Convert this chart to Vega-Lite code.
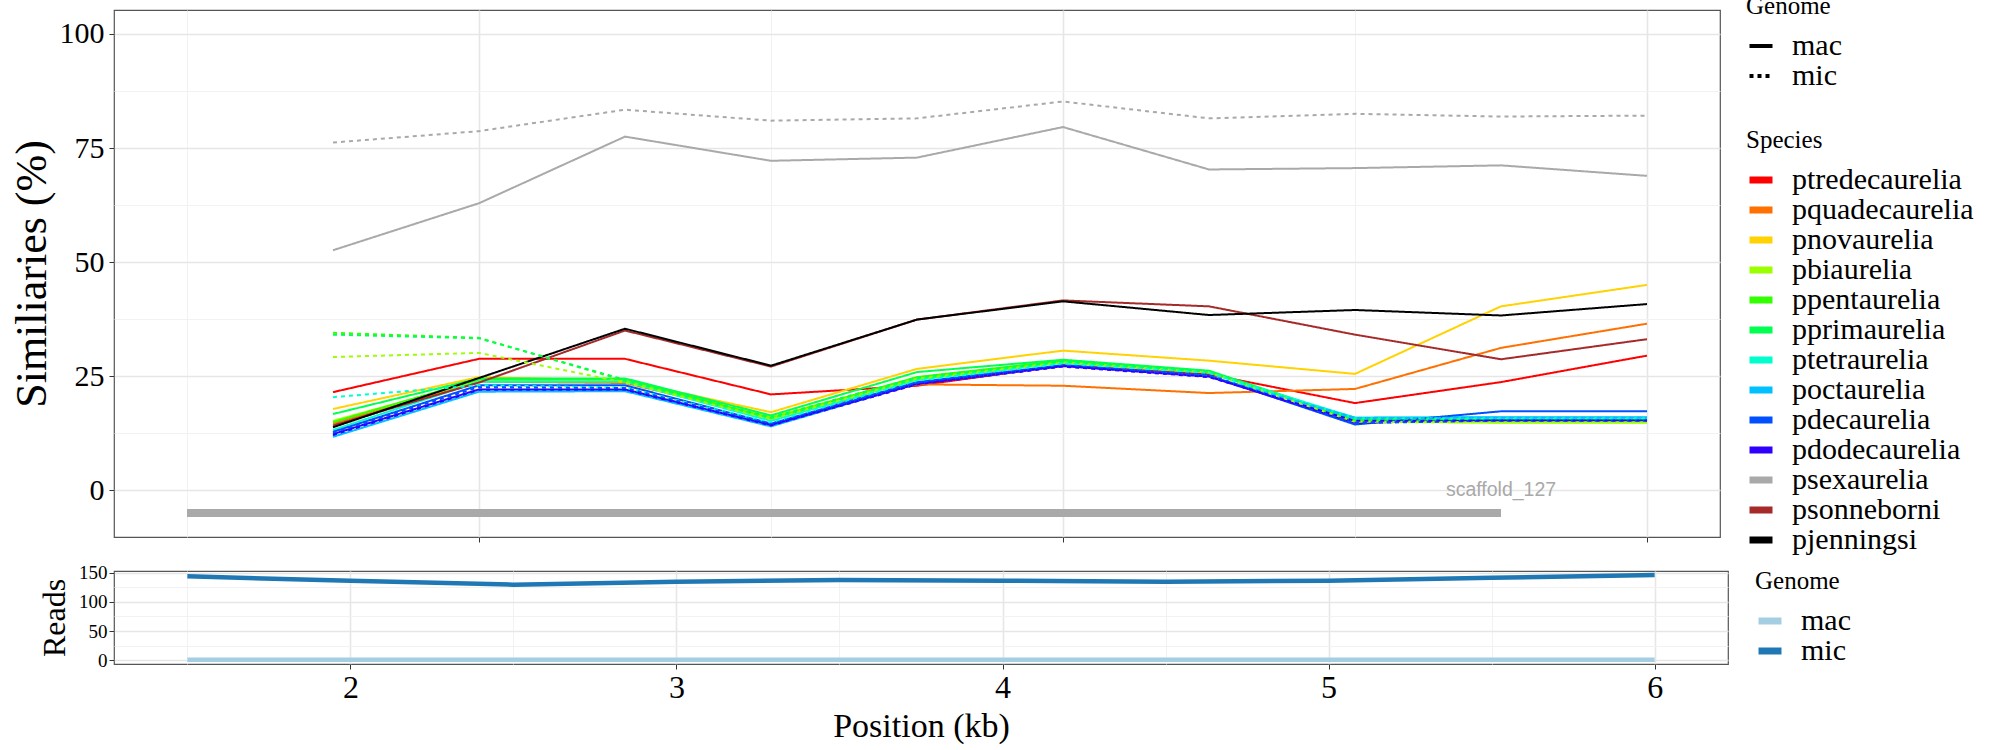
{
  "$schema": "https://vega.github.io/schema/vega-lite/v6.json",
  "padding": {"left": 9, "top": -6, "right": 0, "bottom": 0},
  "config": {
    "font": "Liberation Serif",
    "view": {"stroke": "#555555", "strokeWidth": 1.2},
    "axis": {
      "domain": false,
      "labelFont": "Liberation Serif",
      "titleFont": "Liberation Serif",
      "titleFontWeight": "normal",
      "labelColor": "#000000",
      "titleColor": "#000000",
      "tickColor": "#333333",
      "tickSize": 5,
      "labelFlush": false,
      "labelOverlap": false
    },
    "legend": {
      "titleFont": "Liberation Serif",
      "labelFont": "Liberation Serif",
      "titleFontWeight": "normal",
      "titleColor": "#000000",
      "labelColor": "#000000",
      "titleFontSize": 25,
      "labelFontSize": 30,
      "labelLimit": 400,
      "padding": 0,
      "rowPadding": 0,
      "labelOffset": 16,
      "symbolType": "stroke",
      "symbolSize": 529
    }
  },
  "datasets": {
    "sim": [
      {"species": "ptredecaurelia", "genome": "mac", "pos": 1.5, "sim": 21.5},
      {"species": "ptredecaurelia", "genome": "mac", "pos": 2.0, "sim": 28.8},
      {"species": "ptredecaurelia", "genome": "mac", "pos": 2.5, "sim": 28.8},
      {"species": "ptredecaurelia", "genome": "mac", "pos": 3.0, "sim": 21.0},
      {"species": "ptredecaurelia", "genome": "mac", "pos": 3.5, "sim": 22.9},
      {"species": "ptredecaurelia", "genome": "mac", "pos": 4.0, "sim": 27.4},
      {"species": "ptredecaurelia", "genome": "mac", "pos": 4.5, "sim": 25.4},
      {"species": "ptredecaurelia", "genome": "mac", "pos": 5.0, "sim": 19.1},
      {"species": "ptredecaurelia", "genome": "mac", "pos": 5.5, "sim": 23.7},
      {"species": "ptredecaurelia", "genome": "mac", "pos": 6.0, "sim": 29.5},
      {"species": "pquadecaurelia", "genome": "mac", "pos": 1.5, "sim": 14.6},
      {"species": "pquadecaurelia", "genome": "mac", "pos": 2.0, "sim": 23.8},
      {"species": "pquadecaurelia", "genome": "mac", "pos": 2.5, "sim": 23.5},
      {"species": "pquadecaurelia", "genome": "mac", "pos": 3.0, "sim": 15.9},
      {"species": "pquadecaurelia", "genome": "mac", "pos": 3.5, "sim": 23.2},
      {"species": "pquadecaurelia", "genome": "mac", "pos": 4.0, "sim": 22.9},
      {"species": "pquadecaurelia", "genome": "mac", "pos": 4.5, "sim": 21.3},
      {"species": "pquadecaurelia", "genome": "mac", "pos": 5.0, "sim": 22.2},
      {"species": "pquadecaurelia", "genome": "mac", "pos": 5.5, "sim": 31.2},
      {"species": "pquadecaurelia", "genome": "mac", "pos": 6.0, "sim": 36.5},
      {"species": "pnovaurelia", "genome": "mac", "pos": 1.5, "sim": 17.8},
      {"species": "pnovaurelia", "genome": "mac", "pos": 2.0, "sim": 24.8},
      {"species": "pnovaurelia", "genome": "mac", "pos": 2.5, "sim": 24.0},
      {"species": "pnovaurelia", "genome": "mac", "pos": 3.0, "sim": 17.1},
      {"species": "pnovaurelia", "genome": "mac", "pos": 3.5, "sim": 26.6},
      {"species": "pnovaurelia", "genome": "mac", "pos": 4.0, "sim": 30.6},
      {"species": "pnovaurelia", "genome": "mac", "pos": 4.5, "sim": 28.4},
      {"species": "pnovaurelia", "genome": "mac", "pos": 5.0, "sim": 25.5},
      {"species": "pnovaurelia", "genome": "mac", "pos": 5.5, "sim": 40.3},
      {"species": "pnovaurelia", "genome": "mac", "pos": 6.0, "sim": 45.0},
      {"species": "pbiaurelia", "genome": "mac", "pos": 1.5, "sim": 15.2},
      {"species": "pbiaurelia", "genome": "mac", "pos": 2.0, "sim": 24.0},
      {"species": "pbiaurelia", "genome": "mac", "pos": 2.5, "sim": 23.9},
      {"species": "pbiaurelia", "genome": "mac", "pos": 3.0, "sim": 16.0},
      {"species": "pbiaurelia", "genome": "mac", "pos": 3.5, "sim": 24.6},
      {"species": "pbiaurelia", "genome": "mac", "pos": 4.0, "sim": 28.2},
      {"species": "pbiaurelia", "genome": "mac", "pos": 4.5, "sim": 26.0},
      {"species": "pbiaurelia", "genome": "mac", "pos": 5.0, "sim": 15.0},
      {"species": "pbiaurelia", "genome": "mac", "pos": 5.5, "sim": 14.8},
      {"species": "pbiaurelia", "genome": "mac", "pos": 6.0, "sim": 14.8},
      {"species": "ppentaurelia", "genome": "mac", "pos": 1.5, "sim": 14.9},
      {"species": "ppentaurelia", "genome": "mac", "pos": 2.0, "sim": 24.3},
      {"species": "ppentaurelia", "genome": "mac", "pos": 2.5, "sim": 24.4},
      {"species": "ppentaurelia", "genome": "mac", "pos": 3.0, "sim": 15.7},
      {"species": "ppentaurelia", "genome": "mac", "pos": 3.5, "sim": 24.8},
      {"species": "ppentaurelia", "genome": "mac", "pos": 4.0, "sim": 28.4},
      {"species": "ppentaurelia", "genome": "mac", "pos": 4.5, "sim": 26.0},
      {"species": "ppentaurelia", "genome": "mac", "pos": 5.0, "sim": 15.2},
      {"species": "ppentaurelia", "genome": "mac", "pos": 5.5, "sim": 15.2},
      {"species": "ppentaurelia", "genome": "mac", "pos": 6.0, "sim": 15.2},
      {"species": "pprimaurelia", "genome": "mac", "pos": 1.5, "sim": 16.7},
      {"species": "pprimaurelia", "genome": "mac", "pos": 2.0, "sim": 24.5},
      {"species": "pprimaurelia", "genome": "mac", "pos": 2.5, "sim": 24.5},
      {"species": "pprimaurelia", "genome": "mac", "pos": 3.0, "sim": 16.4},
      {"species": "pprimaurelia", "genome": "mac", "pos": 3.5, "sim": 25.9},
      {"species": "pprimaurelia", "genome": "mac", "pos": 4.0, "sim": 28.6},
      {"species": "pprimaurelia", "genome": "mac", "pos": 4.5, "sim": 26.2},
      {"species": "pprimaurelia", "genome": "mac", "pos": 5.0, "sim": 15.5},
      {"species": "pprimaurelia", "genome": "mac", "pos": 5.5, "sim": 15.5},
      {"species": "pprimaurelia", "genome": "mac", "pos": 6.0, "sim": 15.5},
      {"species": "ptetraurelia", "genome": "mac", "pos": 1.5, "sim": 13.2},
      {"species": "ptetraurelia", "genome": "mac", "pos": 2.0, "sim": 23.8},
      {"species": "ptetraurelia", "genome": "mac", "pos": 2.5, "sim": 23.8},
      {"species": "ptetraurelia", "genome": "mac", "pos": 3.0, "sim": 15.2},
      {"species": "ptetraurelia", "genome": "mac", "pos": 3.5, "sim": 24.2},
      {"species": "ptetraurelia", "genome": "mac", "pos": 4.0, "sim": 27.9},
      {"species": "ptetraurelia", "genome": "mac", "pos": 4.5, "sim": 25.8},
      {"species": "ptetraurelia", "genome": "mac", "pos": 5.0, "sim": 15.9},
      {"species": "ptetraurelia", "genome": "mac", "pos": 5.5, "sim": 15.9},
      {"species": "ptetraurelia", "genome": "mac", "pos": 6.0, "sim": 15.9},
      {"species": "poctaurelia", "genome": "mac", "pos": 1.5, "sim": 11.7},
      {"species": "poctaurelia", "genome": "mac", "pos": 2.0, "sim": 21.6},
      {"species": "poctaurelia", "genome": "mac", "pos": 2.5, "sim": 21.7},
      {"species": "poctaurelia", "genome": "mac", "pos": 3.0, "sim": 14.0},
      {"species": "poctaurelia", "genome": "mac", "pos": 3.5, "sim": 23.4},
      {"species": "poctaurelia", "genome": "mac", "pos": 4.0, "sim": 27.3},
      {"species": "poctaurelia", "genome": "mac", "pos": 4.5, "sim": 25.0},
      {"species": "poctaurelia", "genome": "mac", "pos": 5.0, "sim": 15.9},
      {"species": "poctaurelia", "genome": "mac", "pos": 5.5, "sim": 16.0},
      {"species": "poctaurelia", "genome": "mac", "pos": 6.0, "sim": 16.0},
      {"species": "pdecaurelia", "genome": "mac", "pos": 1.5, "sim": 12.8},
      {"species": "pdecaurelia", "genome": "mac", "pos": 2.0, "sim": 23.0},
      {"species": "pdecaurelia", "genome": "mac", "pos": 2.5, "sim": 23.0},
      {"species": "pdecaurelia", "genome": "mac", "pos": 3.0, "sim": 14.6},
      {"species": "pdecaurelia", "genome": "mac", "pos": 3.5, "sim": 23.7},
      {"species": "pdecaurelia", "genome": "mac", "pos": 4.0, "sim": 27.4},
      {"species": "pdecaurelia", "genome": "mac", "pos": 4.5, "sim": 25.1},
      {"species": "pdecaurelia", "genome": "mac", "pos": 5.0, "sim": 14.4},
      {"species": "pdecaurelia", "genome": "mac", "pos": 5.5, "sim": 17.3},
      {"species": "pdecaurelia", "genome": "mac", "pos": 6.0, "sim": 17.3},
      {"species": "pdodecaurelia", "genome": "mac", "pos": 1.5, "sim": 12.3},
      {"species": "pdodecaurelia", "genome": "mac", "pos": 2.0, "sim": 22.1},
      {"species": "pdodecaurelia", "genome": "mac", "pos": 2.5, "sim": 22.1},
      {"species": "pdodecaurelia", "genome": "mac", "pos": 3.0, "sim": 14.3},
      {"species": "pdodecaurelia", "genome": "mac", "pos": 3.5, "sim": 23.3},
      {"species": "pdodecaurelia", "genome": "mac", "pos": 4.0, "sim": 27.2},
      {"species": "pdodecaurelia", "genome": "mac", "pos": 4.5, "sim": 24.9},
      {"species": "pdodecaurelia", "genome": "mac", "pos": 5.0, "sim": 14.8},
      {"species": "pdodecaurelia", "genome": "mac", "pos": 5.5, "sim": 15.3},
      {"species": "pdodecaurelia", "genome": "mac", "pos": 6.0, "sim": 15.3},
      {"species": "psexaurelia", "genome": "mac", "pos": 1.5, "sim": 52.6},
      {"species": "psexaurelia", "genome": "mac", "pos": 2.0, "sim": 62.9},
      {"species": "psexaurelia", "genome": "mac", "pos": 2.5, "sim": 77.5},
      {"species": "psexaurelia", "genome": "mac", "pos": 3.0, "sim": 72.2},
      {"species": "psexaurelia", "genome": "mac", "pos": 3.5, "sim": 72.9},
      {"species": "psexaurelia", "genome": "mac", "pos": 4.0, "sim": 79.6},
      {"species": "psexaurelia", "genome": "mac", "pos": 4.5, "sim": 70.3},
      {"species": "psexaurelia", "genome": "mac", "pos": 5.0, "sim": 70.6},
      {"species": "psexaurelia", "genome": "mac", "pos": 5.5, "sim": 71.2},
      {"species": "psexaurelia", "genome": "mac", "pos": 6.0, "sim": 68.9},
      {"species": "psonneborni", "genome": "mac", "pos": 1.5, "sim": 14.2},
      {"species": "psonneborni", "genome": "mac", "pos": 2.0, "sim": 23.6},
      {"species": "psonneborni", "genome": "mac", "pos": 2.5, "sim": 35.0},
      {"species": "psonneborni", "genome": "mac", "pos": 3.0, "sim": 27.1},
      {"species": "psonneborni", "genome": "mac", "pos": 3.5, "sim": 37.4},
      {"species": "psonneborni", "genome": "mac", "pos": 4.0, "sim": 41.6},
      {"species": "psonneborni", "genome": "mac", "pos": 4.5, "sim": 40.3},
      {"species": "psonneborni", "genome": "mac", "pos": 5.0, "sim": 34.1},
      {"species": "psonneborni", "genome": "mac", "pos": 5.5, "sim": 28.7},
      {"species": "psonneborni", "genome": "mac", "pos": 6.0, "sim": 33.1},
      {"species": "pjenningsi", "genome": "mac", "pos": 1.5, "sim": 13.8},
      {"species": "pjenningsi", "genome": "mac", "pos": 2.0, "sim": 24.6},
      {"species": "pjenningsi", "genome": "mac", "pos": 2.5, "sim": 35.4},
      {"species": "pjenningsi", "genome": "mac", "pos": 3.0, "sim": 27.3},
      {"species": "pjenningsi", "genome": "mac", "pos": 3.5, "sim": 37.4},
      {"species": "pjenningsi", "genome": "mac", "pos": 4.0, "sim": 41.4},
      {"species": "pjenningsi", "genome": "mac", "pos": 4.5, "sim": 38.4},
      {"species": "pjenningsi", "genome": "mac", "pos": 5.0, "sim": 39.5},
      {"species": "pjenningsi", "genome": "mac", "pos": 5.5, "sim": 38.3},
      {"species": "pjenningsi", "genome": "mac", "pos": 6.0, "sim": 40.8},
      {"species": "pbiaurelia", "genome": "mic", "pos": 1.5, "sim": 29.2},
      {"species": "pbiaurelia", "genome": "mic", "pos": 2.0, "sim": 30.1},
      {"species": "pbiaurelia", "genome": "mic", "pos": 2.5, "sim": 23.6},
      {"species": "pbiaurelia", "genome": "mic", "pos": 3.0, "sim": 15.6},
      {"species": "pbiaurelia", "genome": "mic", "pos": 3.5, "sim": 24.4},
      {"species": "pbiaurelia", "genome": "mic", "pos": 4.0, "sim": 28.0},
      {"species": "pbiaurelia", "genome": "mic", "pos": 4.5, "sim": 25.8},
      {"species": "pbiaurelia", "genome": "mic", "pos": 5.0, "sim": 15.0},
      {"species": "pbiaurelia", "genome": "mic", "pos": 5.5, "sim": 14.9},
      {"species": "pbiaurelia", "genome": "mic", "pos": 6.0, "sim": 14.9},
      {"species": "ppentaurelia", "genome": "mic", "pos": 1.5, "sim": 34.5},
      {"species": "ppentaurelia", "genome": "mic", "pos": 2.0, "sim": 33.4},
      {"species": "ppentaurelia", "genome": "mic", "pos": 2.5, "sim": 24.0},
      {"species": "ppentaurelia", "genome": "mic", "pos": 3.0, "sim": 15.8},
      {"species": "ppentaurelia", "genome": "mic", "pos": 3.5, "sim": 24.5},
      {"species": "ppentaurelia", "genome": "mic", "pos": 4.0, "sim": 28.2},
      {"species": "ppentaurelia", "genome": "mic", "pos": 4.5, "sim": 25.9},
      {"species": "ppentaurelia", "genome": "mic", "pos": 5.0, "sim": 15.3},
      {"species": "ppentaurelia", "genome": "mic", "pos": 5.5, "sim": 15.3},
      {"species": "ppentaurelia", "genome": "mic", "pos": 6.0, "sim": 15.3},
      {"species": "pprimaurelia", "genome": "mic", "pos": 1.5, "sim": 34.1},
      {"species": "pprimaurelia", "genome": "mic", "pos": 2.0, "sim": 33.3},
      {"species": "pprimaurelia", "genome": "mic", "pos": 2.5, "sim": 24.2},
      {"species": "pprimaurelia", "genome": "mic", "pos": 3.0, "sim": 16.0},
      {"species": "pprimaurelia", "genome": "mic", "pos": 3.5, "sim": 24.7},
      {"species": "pprimaurelia", "genome": "mic", "pos": 4.0, "sim": 28.3},
      {"species": "pprimaurelia", "genome": "mic", "pos": 4.5, "sim": 26.0},
      {"species": "pprimaurelia", "genome": "mic", "pos": 5.0, "sim": 15.4},
      {"species": "pprimaurelia", "genome": "mic", "pos": 5.5, "sim": 15.4},
      {"species": "pprimaurelia", "genome": "mic", "pos": 6.0, "sim": 15.4},
      {"species": "ptetraurelia", "genome": "mic", "pos": 1.5, "sim": 20.4},
      {"species": "ptetraurelia", "genome": "mic", "pos": 2.0, "sim": 23.0},
      {"species": "ptetraurelia", "genome": "mic", "pos": 2.5, "sim": 22.5},
      {"species": "ptetraurelia", "genome": "mic", "pos": 3.0, "sim": 14.8},
      {"species": "ptetraurelia", "genome": "mic", "pos": 3.5, "sim": 24.0},
      {"species": "ptetraurelia", "genome": "mic", "pos": 4.0, "sim": 27.8},
      {"species": "ptetraurelia", "genome": "mic", "pos": 4.5, "sim": 25.7},
      {"species": "ptetraurelia", "genome": "mic", "pos": 5.0, "sim": 15.8},
      {"species": "ptetraurelia", "genome": "mic", "pos": 5.5, "sim": 15.8},
      {"species": "ptetraurelia", "genome": "mic", "pos": 6.0, "sim": 15.8},
      {"species": "poctaurelia", "genome": "mic", "pos": 1.5, "sim": 11.9},
      {"species": "poctaurelia", "genome": "mic", "pos": 2.0, "sim": 21.8},
      {"species": "poctaurelia", "genome": "mic", "pos": 2.5, "sim": 21.8},
      {"species": "poctaurelia", "genome": "mic", "pos": 3.0, "sim": 14.1},
      {"species": "poctaurelia", "genome": "mic", "pos": 3.5, "sim": 23.3},
      {"species": "poctaurelia", "genome": "mic", "pos": 4.0, "sim": 27.2},
      {"species": "poctaurelia", "genome": "mic", "pos": 4.5, "sim": 25.0},
      {"species": "poctaurelia", "genome": "mic", "pos": 5.0, "sim": 15.8},
      {"species": "poctaurelia", "genome": "mic", "pos": 5.5, "sim": 15.9},
      {"species": "poctaurelia", "genome": "mic", "pos": 6.0, "sim": 15.9},
      {"species": "pdecaurelia", "genome": "mic", "pos": 1.5, "sim": 12.6},
      {"species": "pdecaurelia", "genome": "mic", "pos": 2.0, "sim": 22.6},
      {"species": "pdecaurelia", "genome": "mic", "pos": 2.5, "sim": 22.4},
      {"species": "pdecaurelia", "genome": "mic", "pos": 3.0, "sim": 14.5},
      {"species": "pdecaurelia", "genome": "mic", "pos": 3.5, "sim": 23.6},
      {"species": "pdecaurelia", "genome": "mic", "pos": 4.0, "sim": 27.2},
      {"species": "pdecaurelia", "genome": "mic", "pos": 4.5, "sim": 25.2},
      {"species": "pdecaurelia", "genome": "mic", "pos": 5.0, "sim": 14.7},
      {"species": "pdecaurelia", "genome": "mic", "pos": 5.5, "sim": 15.3},
      {"species": "pdecaurelia", "genome": "mic", "pos": 6.0, "sim": 15.3},
      {"species": "pdodecaurelia", "genome": "mic", "pos": 1.5, "sim": 12.1},
      {"species": "pdodecaurelia", "genome": "mic", "pos": 2.0, "sim": 22.0},
      {"species": "pdodecaurelia", "genome": "mic", "pos": 2.5, "sim": 22.0},
      {"species": "pdodecaurelia", "genome": "mic", "pos": 3.0, "sim": 14.2},
      {"species": "pdodecaurelia", "genome": "mic", "pos": 3.5, "sim": 23.2},
      {"species": "pdodecaurelia", "genome": "mic", "pos": 4.0, "sim": 27.1},
      {"species": "pdodecaurelia", "genome": "mic", "pos": 4.5, "sim": 24.8},
      {"species": "pdodecaurelia", "genome": "mic", "pos": 5.0, "sim": 15.2},
      {"species": "pdodecaurelia", "genome": "mic", "pos": 5.5, "sim": 15.3},
      {"species": "pdodecaurelia", "genome": "mic", "pos": 6.0, "sim": 15.3},
      {"species": "psexaurelia", "genome": "mic", "pos": 1.5, "sim": 76.2},
      {"species": "psexaurelia", "genome": "mic", "pos": 2.0, "sim": 78.7},
      {"species": "psexaurelia", "genome": "mic", "pos": 2.5, "sim": 83.4},
      {"species": "psexaurelia", "genome": "mic", "pos": 3.0, "sim": 81.0},
      {"species": "psexaurelia", "genome": "mic", "pos": 3.5, "sim": 81.5},
      {"species": "psexaurelia", "genome": "mic", "pos": 4.0, "sim": 85.2},
      {"species": "psexaurelia", "genome": "mic", "pos": 4.5, "sim": 81.5},
      {"species": "psexaurelia", "genome": "mic", "pos": 5.0, "sim": 82.5},
      {"species": "psexaurelia", "genome": "mic", "pos": 5.5, "sim": 81.9},
      {"species": "psexaurelia", "genome": "mic", "pos": 6.0, "sim": 82.1}
    ],
    "scaffold": [
      {"name": "scaffold_127", "start": 1.0, "end": 5.5, "level": -5}
    ],
    "reads": [
      {"genome": "mac", "pos": 1.5, "reads": 1},
      {"genome": "mac", "pos": 2.0, "reads": 1},
      {"genome": "mac", "pos": 2.5, "reads": 1},
      {"genome": "mac", "pos": 3.0, "reads": 1},
      {"genome": "mac", "pos": 3.5, "reads": 1},
      {"genome": "mac", "pos": 4.0, "reads": 1},
      {"genome": "mac", "pos": 4.5, "reads": 1},
      {"genome": "mac", "pos": 5.0, "reads": 1},
      {"genome": "mac", "pos": 5.5, "reads": 1},
      {"genome": "mac", "pos": 6.0, "reads": 1},
      {"genome": "mic", "pos": 1.5, "reads": 143.8},
      {"genome": "mic", "pos": 2.0, "reads": 136.4},
      {"genome": "mic", "pos": 2.5, "reads": 129.6},
      {"genome": "mic", "pos": 3.0, "reads": 134.7},
      {"genome": "mic", "pos": 3.5, "reads": 137.5},
      {"genome": "mic", "pos": 4.0, "reads": 136.4},
      {"genome": "mic", "pos": 4.5, "reads": 134.7},
      {"genome": "mic", "pos": 5.0, "reads": 136.4},
      {"genome": "mic", "pos": 5.5, "reads": 141.5},
      {"genome": "mic", "pos": 6.0, "reads": 146.1}
    ]
  },
  "spacing": 7,
  "resolve": {
    "scale": {"x": "independent", "y": "independent", "color": "independent"},
    "legend": {"color": "independent"}
  },
  "vconcat": [
    {
      "width": 1606,
      "height": 527,
      "layer": [
        {
          "data": {"name": "sim"},
          "mark": {"type": "line", "strokeWidth": 2, "strokeCap": "butt"},
          "encoding": {
            "x": {
              "field": "pos",
              "type": "quantitative",
              "scale": {"domain": [0.75, 6.25], "nice": false, "zero": false},
              "axis": {
                "title": null,
                "labels": false,
                "values": [1, 2, 3, 4, 5, 6],
                "tickOpacity": {"condition": {"test": "datum.value % 2 === 0", "value": 1}, "value": 0},
                "gridColor": {"condition": {"test": "datum.value % 2 === 0", "value": "#e6e6e6"}, "value": "#f0f0f0"},
                "gridWidth": {"condition": {"test": "datum.value % 2 === 0", "value": 1.6}, "value": 0.9}
              }
            },
            "y": {
              "field": "sim",
              "type": "quantitative",
              "scale": {"domain": [-10.25, 105.25], "nice": false, "zero": false},
              "axis": {
                "title": "Similiaries (%)",
                "titleFontSize": 44,
                "titlePadding": 5,
                "labelFontSize": 30,
                "labelPadding": 5,
                "values": [0, 12.5, 25, 37.5, 50, 62.5, 75, 87.5, 100],
                "labelExpr": "datum.value % 25 === 0 ? format(datum.value, 'd') : ''",
                "tickOpacity": {"condition": {"test": "datum.value % 25 === 0", "value": 1}, "value": 0},
                "gridColor": {"condition": {"test": "datum.value % 25 === 0", "value": "#e6e6e6"}, "value": "#f0f0f0"},
                "gridWidth": {"condition": {"test": "datum.value % 25 === 0", "value": 1.6}, "value": 0.9}
              }
            },
            "color": {
              "field": "species",
              "type": "nominal",
              "scale": {
                "domain": ["ptredecaurelia", "pquadecaurelia", "pnovaurelia", "pbiaurelia", "ppentaurelia", "pprimaurelia", "ptetraurelia", "poctaurelia", "pdecaurelia", "pdodecaurelia", "psexaurelia", "psonneborni", "pjenningsi"],
                "range": ["#ff0000", "#ff7000", "#ffd200", "#9cff00", "#33ff00", "#00ff50", "#00ffcc", "#00c0ff", "#0050ff", "#3000ff", "#a9a9a9", "#a52a2a", "#000000"]
              },
              "legend": {
                "title": "Species",
                "orient": "none",
                "legendX": 1632,
                "legendY": 118,
                "titlePadding": 12,
                "symbolStrokeWidth": 7
              }
            },
            "strokeDash": {
              "field": "genome",
              "type": "nominal",
              "scale": {"domain": ["mac", "mic"], "range": [[1, 0], [4, 4]]},
              "legend": {
                "title": "Genome",
                "orient": "none",
                "legendX": 1632,
                "legendY": -16,
                "titlePadding": 12,
                "symbolStrokeWidth": 4,
                "symbolStrokeColor": "#000000"
              }
            }
          }
        },
        {
          "data": {"name": "scaffold"},
          "mark": {"type": "rule", "strokeWidth": 8, "color": "#a9a9a9", "strokeCap": "butt"},
          "encoding": {
            "x": {"field": "start", "type": "quantitative"},
            "x2": {"field": "end"},
            "y": {"field": "level", "type": "quantitative"}
          }
        },
        {
          "data": {"name": "scaffold"},
          "mark": {"type": "text", "font": "Liberation Sans", "fontSize": 19.5, "color": "#a9a9a9", "align": "center", "baseline": "middle"},
          "encoding": {
            "x": {"field": "end", "type": "quantitative"},
            "y": {"datum": 0, "type": "quantitative"},
            "text": {"field": "name"}
          }
        }
      ]
    },
    {
      "width": 1614,
      "height": 93,
      "data": {"name": "reads"},
      "mark": {"type": "line", "strokeWidth": 4.5, "strokeCap": "butt"},
      "encoding": {
        "x": {
          "field": "pos",
          "type": "quantitative",
          "scale": {"domain": [1.275, 6.225], "nice": false, "zero": false},
          "axis": {
            "title": "Position (kb)",
            "titleFontSize": 34,
            "titlePadding": 6,
            "labelFontSize": 32,
            "labelPadding": 3,
            "values": [1.5, 2, 2.5, 3, 3.5, 4, 4.5, 5, 5.5, 6],
            "labelExpr": "datum.value % 1 === 0 ? format(datum.value, 'd') : ''",
            "tickOpacity": {"condition": {"test": "datum.value % 1 === 0", "value": 1}, "value": 0},
            "gridColor": {"condition": {"test": "datum.value % 1 === 0", "value": "#e6e6e6"}, "value": "#f0f0f0"},
            "gridWidth": {"condition": {"test": "datum.value % 1 === 0", "value": 1.6}, "value": 0.9}
          }
        },
        "y": {
          "field": "reads",
          "type": "quantitative",
          "scale": {"domain": [-6.5, 153], "nice": false, "zero": false},
          "axis": {
            "title": "Reads",
            "titleFontSize": 32,
            "titlePadding": 7,
            "labelFontSize": 19,
            "labelPadding": 2,
            "values": [0, 25, 50, 75, 100, 125, 150],
            "labelExpr": "datum.value % 50 === 0 ? format(datum.value, 'd') : ''",
            "tickOpacity": {"condition": {"test": "datum.value % 50 === 0", "value": 1}, "value": 0},
            "gridColor": {"condition": {"test": "datum.value % 50 === 0", "value": "#e6e6e6"}, "value": "#f0f0f0"},
            "gridWidth": {"condition": {"test": "datum.value % 50 === 0", "value": 1.6}, "value": 0.9}
          }
        },
        "color": {
          "field": "genome",
          "type": "nominal",
          "scale": {"domain": ["mac", "mic"], "range": ["#a6cee3", "#1f78b4"]},
          "legend": {
            "title": "Genome",
            "orient": "none",
            "legendX": 1641,
            "legendY": -2,
            "titlePadding": 12,
            "symbolStrokeWidth": 7
          }
        }
      }
    }
  ]
}
